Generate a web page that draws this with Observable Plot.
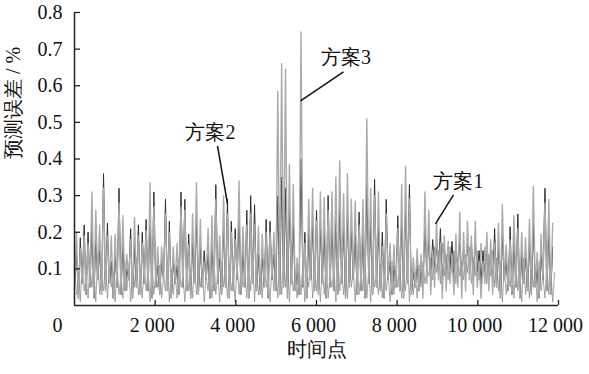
<!DOCTYPE html>
<html><head><meta charset="utf-8">
<script src="https://cdn.jsdelivr.net/npm/d3@7"></script>
<script src="https://cdn.jsdelivr.net/npm/@observablehq/plot@0.6"></script>
<style>body{margin:0;background:#fff}</style>
</head><body><div id="chart"></div>
<script>
// time points between successive spikes
const step = 96;
const seriesNames = ["方案1", "方案2", "方案3"];

// 方案3 (light grey) – spike peaks and troughs
const scheme3Peaks = [
 0.20,0.155,0.19,0.17,0.31,0.26,0.22,0.32,0.19,0.19,
 0.195,0.28,0.245,0.14,0.18,0.24,0.19,0.17,0.205,0.335,
 0.27,0.16,0.16,0.25,0.20,0.16,0.17,0.27,0.26,0.165,
 0.25,0.335,0.235,0.12,0.21,0.245,0.29,0.19,0.30,0.25,
 0.20,0.18,0.34,0.215,0.22,0.25,0.22,0.215,0.195,0.20,
 0.20,0.20,0.585,0.66,0.645,0.385,0.33,0.13,0.747,0.17,
 0.29,0.32,0.23,0.31,0.295,0.26,0.31,0.35,0.395,0.305,
 0.36,0.29,0.285,0.22,0.29,0.51,0.32,0.30,0.31,0.16,
 0.25,0.17,0.165,0.21,0.33,0.38,0.29,0.13,0.155,0.14,
 0.31,0.26,0.15,0.225,0.17,0.19,0.175,0.14,0.195,0.255,
 0.20,0.23,0.19,0.23,0.12,0.12,0.20,0.18,0.17,0.225,
 0.275,0.165,0.18,0.245,0.21,0.20,0.185,0.235,0.325,0.145,
 0.195,0.28,0.29,0.225];
const scheme3Troughs = [
 0.04,0.02,0.06,0.03,0.05,0.02,0.07,0.03,0.04,0.06,
 0.02,0.05,0.03,0.04,0.07,0.02,0.05,0.03,0.06,0.04,
 0.02,0.05,0.03,0.07,0.04,0.02,0.06,0.03,0.05,0.04,
 0.02,0.06,0.03,0.05,0.07,0.02,0.04,0.06,0.03,0.05,
 0.02,0.04,0.07,0.03,0.05,0.02,0.06,0.04,0.03,0.05,
 0.02,0.07,0.04,0.03,0.05,0.02,0.06,0.04,0.03,0.05,
 0.02,0.07,0.04,0.03,0.06,0.02,0.05,0.04,0.03,0.06,
 0.02,0.05,0.07,0.03,0.04,0.02,0.06,0.03,0.05,0.04,
 0.02,0.07,0.03,0.05,0.04,0.02,0.06,0.03,0.05,0.04,
 0.02,0.06,0.03,0.05,0.07,0.02,0.04,0.06,0.03,0.05,
 0.02,0.04,0.07,0.03,0.05,0.02,0.06,0.04,0.03,0.05,
 0.02,0.07,0.04,0.03,0.05,0.02,0.06,0.04,0.03,0.05,
 0.02,0.07,0.04,0.03];

// 方案2 (dark) – spike peaks and troughs
const scheme2Peaks = [
 0.15,0.185,0.22,0.20,0.22,0.18,0.15,0.36,0.225,0.12,
 0.14,0.32,0.17,0.10,0.21,0.16,0.22,0.20,0.235,0.25,
 0.31,0.11,0.12,0.29,0.23,0.12,0.11,0.31,0.29,0.195,
 0.17,0.24,0.16,0.15,0.14,0.17,0.33,0.13,0.22,0.29,
 0.23,0.21,0.25,0.15,0.26,0.30,0.275,0.14,0.13,0.235,
 0.23,0.14,0.30,0.35,0.32,0.26,0.22,0.10,0.40,0.20,
 0.20,0.22,0.26,0.21,0.20,0.30,0.22,0.24,0.27,0.21,
 0.25,0.20,0.19,0.255,0.20,0.33,0.22,0.345,0.21,0.20,
 0.29,0.12,0.11,0.245,0.23,0.27,0.33,0.09,0.11,0.10,
 0.21,0.18,0.18,0.16,0.21,0.17,0.16,0.175,0.17,0.18,
 0.16,0.17,0.17,0.18,0.15,0.15,0.16,0.15,0.21,0.16,
 0.19,0.12,0.215,0.17,0.25,0.14,0.13,0.17,0.22,0.10,
 0.14,0.32,0.20,0.16];
const scheme2Troughs = [
 0.04,0.02,0.06,0.03,0.05,0.02,0.07,0.03,0.04,0.06,
 0.02,0.05,0.03,0.04,0.07,0.02,0.05,0.03,0.06,0.04,
 0.02,0.05,0.03,0.07,0.04,0.02,0.06,0.03,0.05,0.04,
 0.02,0.06,0.03,0.05,0.07,0.02,0.04,0.06,0.03,0.05,
 0.02,0.04,0.07,0.03,0.05,0.02,0.06,0.04,0.03,0.05,
 0.02,0.07,0.04,0.03,0.05,0.02,0.06,0.04,0.03,0.05,
 0.02,0.07,0.04,0.03,0.06,0.02,0.05,0.04,0.03,0.06,
 0.02,0.05,0.07,0.03,0.04,0.02,0.06,0.03,0.05,0.04,
 0.02,0.07,0.03,0.05,0.04,0.02,0.06,0.03,0.05,0.04,
 0.06,0.09,0.07,0.10,0.09,0.06,0.08,0.10,0.07,0.09,
 0.06,0.08,0.10,0.07,0.09,0.06,0.08,0.07,0.06,0.05,
 0.02,0.07,0.04,0.03,0.05,0.02,0.06,0.04,0.03,0.05,
 0.02,0.07,0.04,0.03];

// 方案1 (mid grey, phase between spikes) – peaks and troughs
const scheme1Peaks = [
 0.09,0.12,0.08,0.11,0.10,0.13,0.07,0.12,0.10,0.09,
 0.11,0.08,0.12,0.10,0.09,0.13,0.08,0.11,0.10,0.12,
 0.09,0.11,0.08,0.12,0.10,0.09,0.13,0.08,0.11,0.10,
 0.12,0.09,0.10,0.08,0.11,0.13,0.09,0.12,0.10,0.11,
 0.08,0.12,0.10,0.09,0.11,0.13,0.10,0.08,0.12,0.09,
 0.11,0.10,0.14,0.12,0.13,0.10,0.09,0.11,0.12,0.10,
 0.13,0.09,0.11,0.10,0.12,0.08,0.11,0.13,0.10,0.09,
 0.12,0.10,0.11,0.09,0.13,0.10,0.12,0.08,0.11,0.10,
 0.09,0.12,0.10,0.11,0.08,0.12,0.10,0.09,0.11,0.12,
 0.10,0.13,0.16,0.15,0.17,0.14,0.16,0.15,0.13,0.12,
 0.14,0.16,0.13,0.15,0.17,0.16,0.14,0.15,0.13,0.12,
 0.10,0.09,0.12,0.11,0.10,0.13,0.09,0.11,0.10,0.12,
 0.08,0.11,0.10,0.09];
const scheme1Troughs = [
 0.03,0.01,0.04,0.02,0.05,0.01,0.03,0.04,0.02,0.05,
 0.01,0.03,0.02,0.04,0.01,0.05,0.03,0.02,0.04,0.01,
 0.03,0.05,0.02,0.04,0.01,0.03,0.02,0.05,0.01,0.04,
 0.02,0.03,0.05,0.01,0.04,0.02,0.03,0.01,0.05,0.02,
 0.04,0.01,0.03,0.05,0.02,0.04,0.01,0.03,0.02,0.05,
 0.01,0.04,0.02,0.03,0.05,0.01,0.04,0.02,0.03,0.01,
 0.05,0.02,0.04,0.01,0.03,0.02,0.05,0.01,0.04,0.03,
 0.02,0.05,0.01,0.03,0.04,0.02,0.01,0.05,0.03,0.02,
 0.04,0.01,0.03,0.05,0.02,0.04,0.01,0.03,0.02,0.05,
 0.06,0.08,0.07,0.09,0.06,0.08,0.07,0.09,0.06,0.08,
 0.07,0.09,0.06,0.08,0.07,0.09,0.06,0.08,0.05,0.04,
 0.01,0.03,0.05,0.02,0.04,0.01,0.03,0.02,0.05,0.01,
 0.04,0.02,0.03,0.01];

const xTicks = [2000, 4000, 6000, 8000, 10000, 12000];
const xOriginLabel = "0";
const yTicks = [0.1, 0.2, 0.3, 0.4, 0.5, 0.6, 0.7, 0.8];
const xTitle = "时间点";
const yTitle = "预测误差 / %";

// annotations (data units): label position and pointer line
const annLabels = ["方案1", "方案2", "方案3"];
const annTextX = [9519, 3371, 6731];
const annTextY = [0.338, 0.471, 0.678];
const annLineX1 = [9395, 3545, 6669];
const annLineY1 = [0.302, 0.436, 0.638];
const annLineX2 = [8949, 3793, 5603];
const annLineY2 = [0.223, 0.278, 0.559];

function build(peaks, troughs, offset) {
  const out = [];
  for (let i = 0; i < peaks.length; i++) {
    out.push({t: i * step + offset, v: troughs[i]});
    out.push({t: i * step + step / 2 + offset, v: peaks[i]});
  }
  return out;
}
const s1 = build(scheme1Peaks, scheme1Troughs, step / 2);
const s2 = build(scheme2Peaks, scheme2Troughs, 0);
const s3 = build(scheme3Peaks, scheme3Troughs, 0);
const ann = annLabels.map((l, i) => ({label: l, tx: annTextX[i], ty: annTextY[i],
  x1: annLineX1[i], y1: annLineY1[i], x2: annLineX2[i], y2: annLineY2[i]}));

const W = 589, H = 374, mL = 74, mR = 31, mT = 12, mB = 69;
const FONT = "Liberation Serif";
const fmt = d => d3.format(",")(d).replace(/,/g, " ");

const chart = Plot.plot({
  width: W, height: H,
  marginLeft: mL, marginRight: mR, marginTop: mT, marginBottom: mB,
  style: {background: "#fff", color: "#111"},
  x: {domain: [0, 12000]},
  y: {domain: [0, 0.8]},
  marks: [
    Plot.line(s1, {x: "t", y: "v", stroke: "#8e8e8e", strokeWidth: 0.8}),
    Plot.line(s2, {x: "t", y: "v", stroke: "#2e2e2e", strokeWidth: 1.0}),
    Plot.line(s3, {x: "t", y: "v", stroke: "#aaaaaa", strokeWidth: 1.4}),
    Plot.ruleY([0], {stroke: "#222", strokeWidth: 1.5}),
    Plot.ruleX([0], {stroke: "#222", strokeWidth: 1.5}),
    Plot.tickX(xTicks, {x: d => d, insetTop: (H - mT - mB) - 5, stroke: "#222", strokeWidth: 1.3}),
    Plot.tickY(yTicks, {y: d => d, insetRight: (W - mL - mR) - 6, stroke: "#222", strokeWidth: 1.3}),
    Plot.axisX({ticks: xTicks, tickSize: 0, tickPadding: 12, dx: -3, tickFormat: fmt, label: null, fontSize: 20, fontFamily: FONT}),
    Plot.text([xOriginLabel], {x: () => 0, frameAnchor: "bottom", lineAnchor: "top", dy: 12, dx: -17, text: d => d, fontSize: 20, fontFamily: FONT}),
    Plot.axisY({ticks: yTicks, tickSize: 0, tickPadding: 12, tickFormat: d => d.toFixed(1), label: null, fontSize: 20, fontFamily: FONT}),
    Plot.text([xTitle], {frameAnchor: "bottom", dy: 50, text: d => d, fontSize: 20, fontFamily: FONT}),
    Plot.text([yTitle], {frameAnchor: "left", rotate: -90, dx: -61, text: d => d, fontSize: 20, fontFamily: FONT}),
    Plot.link(ann, {x1: "x1", y1: "y1", x2: "x2", y2: "y2", stroke: "#111", strokeWidth: 1.5}),
    Plot.text(ann, {x: "tx", y: "ty", text: "label", fontSize: 20, fill: "#111", fontFamily: FONT})
  ]
});
document.getElementById("chart").appendChild(chart);
</script>
</body></html>
